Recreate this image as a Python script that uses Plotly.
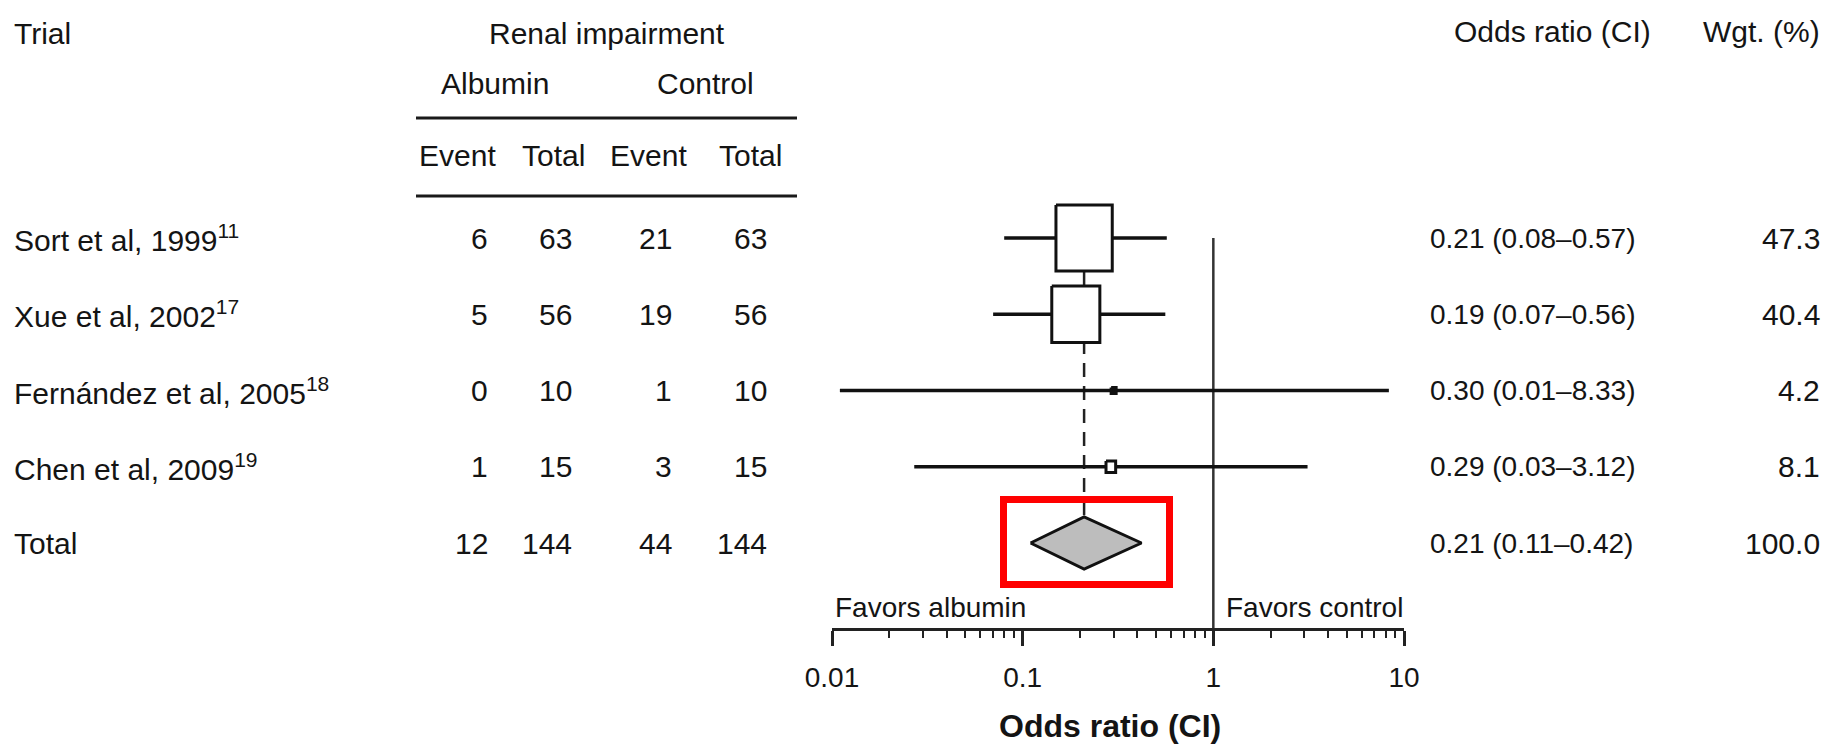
import plotly.graph_objects as go

# ---------------- data ----------------
trials = ["Sort et al, 1999", "Xue et al, 2002", "Fernández et al, 2005", "Chen et al, 2009", "Total"]
refs = ["11", "17", "18", "19", ""]
alb_event = [6, 5, 0, 1, 12]
alb_total = [63, 56, 10, 15, 144]
ctl_event = [21, 19, 1, 3, 44]
ctl_total = [63, 56, 10, 15, 144]
odds = [0.21, 0.19, 0.30, 0.29, 0.21]
ci_low = [0.08, 0.07, 0.011, 0.027, 0.11]
ci_high = [0.57, 0.56, 8.33, 3.12, 0.42]
weights = [47.3, 40.4, 4.2, 8.1, 100.0]
ci_labels = ["0.21 (0.08–0.57)", "0.19 (0.07–0.56)", "0.30 (0.01–8.33)", "0.29 (0.03–3.12)", "0.21 (0.11–0.42)"]
weight_labels = ["47.3", "40.4", "4.2", "8.1", "100.0"]
tick_vals = [0.01, 0.1, 1, 10]
tick_labels = ["0.01", "0.1", "1", "10"]
minor_vals = [m * d for d in (0.01, 0.1, 1) for m in range(2, 10)]

# ---------------- layout geometry ----------------
W, H = 1825, 748
L_PX, R_PX, B_PX = 832, 1404, 628
ROW0_PX, ROW_STEP = 238, 76.25
DECADE_PX = (R_PX - L_PX) / 3.0


def ypx(px):
    return (px - ROW0_PX) / ROW_STEP


def xp(px):
    return (px - L_PX) / (R_PX - L_PX)


def yp(px):
    return (B_PX - px) / B_PX


YRANGE = [ypx(B_PX), ypx(0)]
FONT = "Liberation Sans, Arial, Helvetica, sans-serif"
TXT = "#141414"
TS = 30                        # table text size
BOX_KW, BOX_KH = 1.19, 1.40    # px per weight-% (width / height of study boxes)

n_study = 4
rows = list(range(len(trials)))

fig = go.Figure()

# pooled-estimate dashed line
hh0 = BOX_KH * weights[0] / 2 / ROW_STEP
dh = 26 / ROW_STEP
fig.add_trace(go.Scatter(x=[odds[-1], odds[-1]], y=[rows[0] + hh0, rows[-1] - dh], mode="lines",
                         line=dict(color="#222", width=2.5, dash="14px,9px"), hoverinfo="skip"))
# line of no effect
fig.add_trace(go.Scatter(x=[1, 1], y=[rows[0], YRANGE[0]], mode="lines",
                         line=dict(color="#333", width=2.5), hoverinfo="skip"))
# confidence intervals
cx, cy = [], []
for i in range(n_study):
    cx += [ci_low[i], ci_high[i], None]
    cy += [rows[i], rows[i], None]
fig.add_trace(go.Scatter(x=cx, y=cy, mode="lines", line=dict(color="#111", width=3.5), hoverinfo="skip"))
# weighted boxes
for i in range(n_study):
    hw = BOX_KW * weights[i] / 2 / DECADE_PX
    hh = BOX_KH * weights[i] / 2 / ROW_STEP
    x0, x1 = odds[i] * 10 ** (-hw), odds[i] * 10 ** hw
    fill = "#111" if weights[i] < 5 else "white"
    fig.add_trace(go.Scatter(x=[x0, x1, x1, x0, x0], y=[rows[i] - hh, rows[i] - hh, rows[i] + hh, rows[i] + hh, rows[i] - hh],
                             mode="lines", fill="toself", fillcolor=fill,
                             line=dict(color="#111", width=3), hoverinfo="skip"))
# pooled diamond
t = rows[-1]
fig.add_trace(go.Scatter(x=[ci_low[t], odds[t], ci_high[t], odds[t], ci_low[t]],
                         y=[t, t - dh, t, t + dh, t], mode="lines", fill="toself",
                         fillcolor="#bdbdbd", line=dict(color="#111", width=3), hoverinfo="skip"))

ann = []


def add_text(text, x, y_px, anchor="left", size=TS, bold=False):
    ann.append(dict(text=f"<b>{text}</b>" if bold else text, x=x, y=yp(y_px), xref="paper", yref="paper",
                    xanchor=anchor, yanchor="middle", showarrow=False,
                    font=dict(family=FONT, size=size, color=TXT)))


def row_px(r):
    return ROW0_PX + r * ROW_STEP


# headers
add_text("Trial", xp(12), 34)
add_text("Renal impairment", xp(607), 34, "center")
add_text("Albumin", xp(495), 84, "center")
add_text("Control", xp(705), 84, "center")
for lab, cxp in zip(["Event", "Total", "Event", "Total"], [457, 553, 648, 750]):
    add_text(lab, xp(cxp), 155, "center")
add_text("Odds ratio (CI)", xp(1653), 32, "right")
add_text("Wgt. (%)", xp(1822), 32, "right")

# rows
for i in rows:
    name = trials[i] + (f"<sup>{refs[i]}</sup>" if refs[i] else "")
    add_text(name, xp(12), row_px(rows[i]))
    for val, rx in zip([alb_event[i], alb_total[i], ctl_event[i], ctl_total[i]], [490, 574, 674, 769]):
        add_text(str(val), xp(rx), row_px(rows[i]), "right")
    add_text(ci_labels[i], xp(1428), row_px(rows[i]), "left", size=28)
    add_text(weight_labels[i], xp(1822), row_px(rows[i]), "right")

# favours labels and axis title
add_text("Favors albumin", xp(833), 607, "left", size=28)
add_text("Favors control", xp(1405), 607, "right", size=28)
add_text("Odds ratio (CI)", xp(1110), 726, "center", size=32, bold=True)

shapes = []
for ly in (118, 196):
    shapes.append(dict(type="line", xref="paper", yref="paper", x0=xp(416), x1=xp(797), y0=yp(ly), y1=yp(ly),
                       line=dict(color="#1a1a1a", width=3)))
# red highlight frame around the pooled estimate
shapes.append(dict(type="rect", xref="paper", yref="paper", x0=xp(1003.5), x1=xp(1169.5), y0=yp(499.5), y1=yp(584.5),
                   line=dict(color="#ff0000", width=7), fillcolor="rgba(0,0,0,0)", layer="above"))

fig.update_layout(
    width=W, height=H, autosize=False,
    margin=dict(l=L_PX, r=W - R_PX, t=0, b=H - B_PX, pad=0),
    paper_bgcolor="white", plot_bgcolor="white",
    showlegend=False,
    annotations=ann, shapes=shapes,
    xaxis=dict(type="log", range=[-2, 1], showgrid=False, zeroline=False,
               showline=True, linecolor="#222", linewidth=2.5,
               tickmode="array", tickvals=tick_vals, ticktext=tick_labels,
               ticks="outside", ticklen=15, tickwidth=2.5, tickcolor="#222",
               ticklabelstandoff=8,
               tickfont=dict(family=FONT, size=28, color=TXT),
               minor=dict(tickmode="array", tickvals=minor_vals, ticks="outside",
                          ticklen=7, tickwidth=2, tickcolor="#222", showgrid=False),
               fixedrange=True),
    yaxis=dict(range=YRANGE, visible=False, fixedrange=True),
)

fig.write_html("out.html")
